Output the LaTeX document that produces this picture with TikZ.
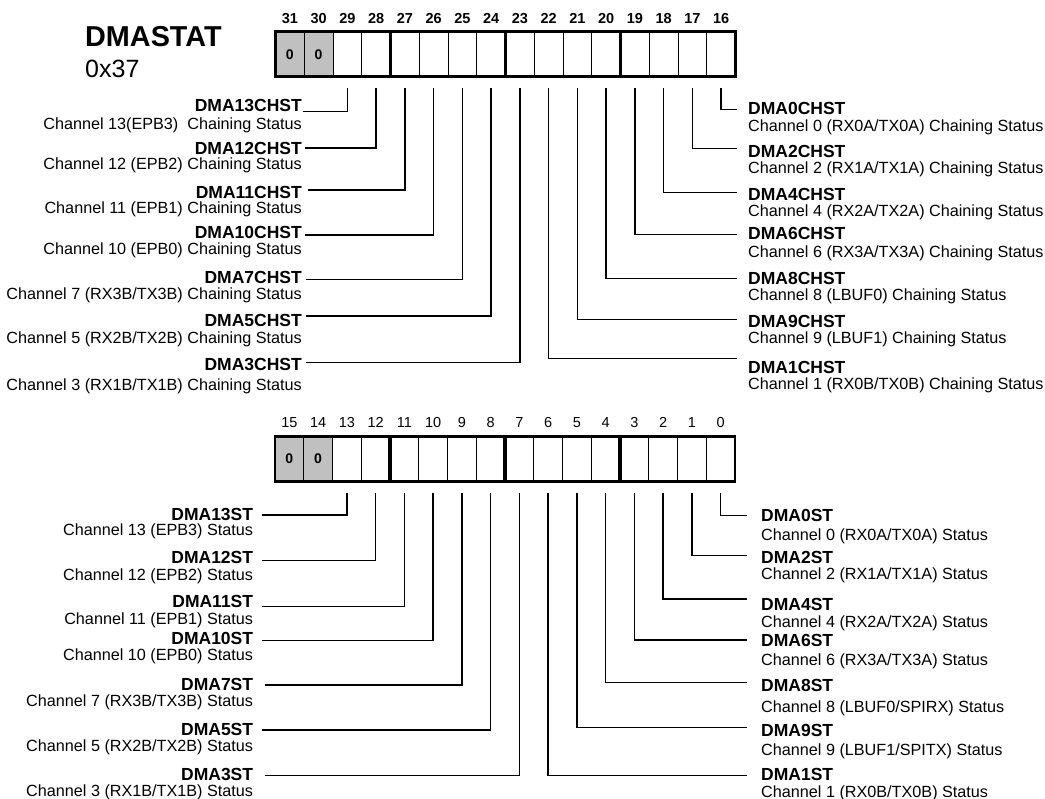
\documentclass[tikz,border=0pt]{standalone}
\usepackage{fontspec}
\setmainfont{Liberation Sans}
\usetikzlibrary{calc}
\definecolor{cellgray}{RGB}{192,192,192}
\tikzset{
  cell/.style={draw=black, line width=0.9pt, minimum width=28.75pt, minimum height=45pt, inner sep=0pt, outer sep=0pt, font=\fontsize{14}{14}\selectfont\bfseries},
  grey/.style={fill=cellgray},
  frame/.style={line width=2.6pt},
  divider/.style={line width=3.2pt},
  conn/.style={line width=1.3pt},
  namel/.style={font=\fontsize{17.5}{18}\selectfont\bfseries, inner sep=0pt},
  descl/.style={font=\fontsize{16.2}{17}\selectfont, inner sep=0pt},
  bitt/.style={font=\fontsize{14.5}{15}\selectfont\bfseries, inner sep=0pt},
  bitb/.style={font=\fontsize{14.5}{15}\selectfont, inner sep=0pt},
}
% #1 register prefix, #2 bit, #3 name, #4 description, #5 line y, #6 line end x,
% #7 name baseline, #8 description baseline, #9 text right x
\newcommand{\TagLeft}[9]{%
  \coordinate (e#1#2) at (#6,#5);
  \node[namel, anchor=base east] (n#1#2) at (#9,#7) {#3};
  \node[descl, anchor=base east] (d#1#2) at (#9,#8) {#4};
  \draw[conn] ([yshift=-11.5pt]#1#2.south) |- (e#1#2);
}
% same, #9 text left x
\newcommand{\TagRight}[9]{%
  \coordinate (e#1#2) at (#6,#5);
  \node[namel, anchor=base west] (n#1#2) at (#9,#7) {#3};
  \node[descl, anchor=base west] (d#1#2) at (#9,#8) {#4};
  \draw[conn] ([yshift=-11.5pt]#1#2.south) |- (e#1#2);
}
\begin{document}
\begin{tikzpicture}[x=1pt,y=-1pt]
\useasboundingbox (0,0) rectangle (1045,799);

% title
\node[font=\fontsize{28.8}{30}\selectfont\bfseries, anchor=base west, inner sep=0pt] (title) at (85,46.7) {DMASTAT};
\node[font=\fontsize{25}{26}\selectfont, anchor=base west, inner sep=0pt] (addr) at (85,77.3) {0x37};

% top register (bits 31..16)
\foreach \b in {16,...,29} {
  \node[cell] (t\b) at ({275.5+(31-\b+0.5)*28.75},54.2) {};
}
\node[cell, grey] (t31) at ({275.5+0.5*28.75},54.2) {0};
\node[cell, grey] (t30) at ({275.5+1.5*28.75},54.2) {0};
\draw[frame] (t31.north west) rectangle (t16.south east);
\foreach \b in {27,23,19} { \draw[divider] (t\b.north west) -- (t\b.south west); }
\foreach \b in {16,...,31} { \node[bitt, anchor=base] (tn\b) at ([yshift=8.4pt]t\b.north) {\b}; }

% bottom register (bits 15..0)
\foreach \b in {0,...,13} {
  \node[cell] (b\b) at ({275+(15-\b+0.5)*28.75},458.75) {};
}
\node[cell, grey] (b15) at ({275+0.5*28.75},458.75) {0};
\node[cell, grey] (b14) at ({275+1.5*28.75},458.75) {0};
\draw[frame] (b15.north west) rectangle (b0.south east);
\foreach \b in {11,7,3} { \draw[divider] (b\b.north west) -- (b\b.south west); }
\foreach \b in {0,...,15} { \node[bitb, anchor=base] (bn\b) at ([yshift=9pt]b\b.north) {\b}; }

% top left labels
\TagLeft{t}{29}{DMA13CHST}{Channel 13(EPB3)\ \ Chaining Status}{111.7}{303.3}{111.3}{129.5}{302}
\TagLeft{t}{28}{DMA12CHST}{Channel 12 (EPB2) Chaining Status}{148}{305}{154.3}{170}{302}
\TagLeft{t}{27}{DMA11CHST}{Channel 11 (EPB1) Chaining Status}{190}{308}{198.3}{213.3}{302}
\TagLeft{t}{26}{DMA10CHST}{Channel 10 (EPB0) Chaining Status}{235}{305}{238.8}{254.8}{302}
\TagLeft{t}{25}{DMA7CHST}{Channel 7 (RX3B/TX3B) Chaining Status}{279.3}{306}{283.3}{299.3}{302}
\TagLeft{t}{24}{DMA5CHST}{Channel 5 (RX2B/TX2B) Chaining Status}{316}{306}{326.7}{344}{302}
\TagLeft{t}{23}{DMA3CHST}{Channel 3 (RX1B/TX1B) Chaining Status}{362.7}{306}{370.7}{390.7}{302}

% top right labels
\TagRight{t}{16}{DMA0CHST}{Channel 0 (RX0A/TX0A) Chaining Status}{109.3}{737}{115}{131.7}{748}
\TagRight{t}{17}{DMA2CHST}{Channel 2 (RX1A/TX1A) Chaining Status}{148.3}{737}{157.7}{173.3}{748}
\TagRight{t}{18}{DMA4CHST}{Channel 4 (RX2A/TX2A) Chaining Status}{192.7}{737}{200.3}{216.6}{748}
\TagRight{t}{19}{DMA6CHST}{Channel 6 (RX3A/TX3A) Chaining Status}{234.3}{737}{240}{257.3}{748}
\TagRight{t}{20}{DMA8CHST}{Channel 8 (LBUF0) Chaining Status}{278.3}{737}{285}{300.7}{748}
\TagRight{t}{21}{DMA9CHST}{Channel 9 (LBUF1) Chaining Status}{319.3}{737}{327.6}{343.9}{748}
\TagRight{t}{22}{DMA1CHST}{Channel 1 (RX0B/TX0B) Chaining Status}{358.3}{737}{373.3}{390}{748}

% bottom left labels
\TagLeft{b}{13}{DMA13ST}{Channel 13 (EPB3) Status}{515}{262.3}{520.7}{535.7}{253.3}
\TagLeft{b}{12}{DMA12ST}{Channel 12 (EPB2) Status}{560.7}{262.3}{564}{580}{253.3}
\TagLeft{b}{11}{DMA11ST}{Channel 11 (EPB1) Status}{606.7}{262.3}{607.7}{624}{253.3}
\TagLeft{b}{10}{DMA10ST}{Channel 10 (EPB0) Status}{640.7}{262.3}{644}{660.7}{253.3}
\TagLeft{b}{9}{DMA7ST}{Channel 7 (RX3B/TX3B) Status}{685}{265}{690}{706}{253.3}
\TagLeft{b}{8}{DMA5ST}{Channel 5 (RX2B/TX2B) Status}{730}{262.3}{735.7}{751.7}{253.3}
\TagLeft{b}{7}{DMA3ST}{Channel 3 (RX1B/TX1B) Status}{775.7}{265}{780.7}{796.7}{253.3}

% bottom right labels
\TagRight{b}{0}{DMA0ST}{Channel 0 (RX0A/TX0A) Status}{515.7}{747}{521.7}{540}{761}
\TagRight{b}{1}{DMA2ST}{Channel 2 (RX1A/TX1A) Status}{555.7}{747}{563.5}{579.3}{761}
\TagRight{b}{2}{DMA4ST}{Channel 4 (RX2A/TX2A) Status}{599}{747}{610.7}{627.3}{761}
\TagRight{b}{3}{DMA6ST}{Channel 6 (RX3A/TX3A) Status}{640}{747}{646.7}{665}{761}
\TagRight{b}{4}{DMA8ST}{Channel 8 (LBUF0/SPIRX) Status}{682.7}{747}{691.7}{712.3}{761}
\TagRight{b}{5}{DMA9ST}{Channel 9 (LBUF1/SPITX) Status}{727.3}{747}{736.7}{755}{761}
\TagRight{b}{6}{DMA1ST}{Channel 1 (RX0B/TX0B) Status}{775.7}{747}{780}{797.3}{761}
\end{tikzpicture}
\end{document}
